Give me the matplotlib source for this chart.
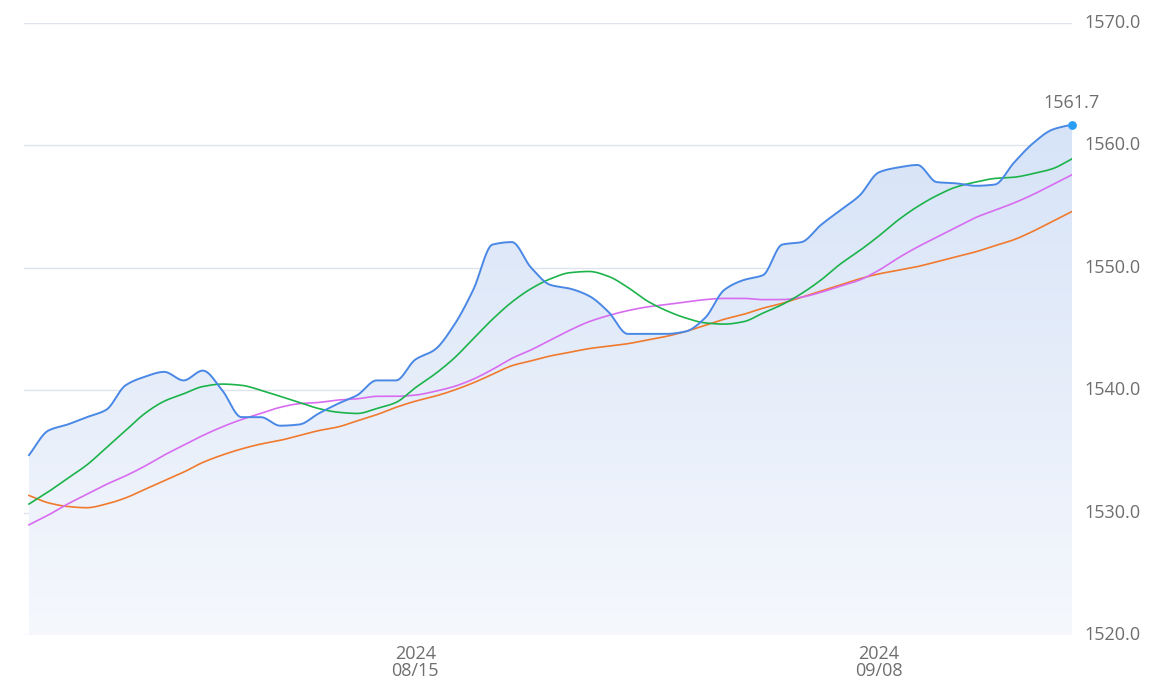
import numpy as np
import pandas as pd
import matplotlib
matplotlib.use("Agg")
import matplotlib.pyplot as plt
from matplotlib.patches import PathPatch
from matplotlib.path import Path

plt.rcParams['font.family'] = ['Open Sans', 'DejaVu Sans']

dates = pd.date_range("2024-07-26", "2024-09-18", freq="D")

price = [1534.7, 1536.7, 1537.2, 1537.8, 1538.4, 1540.4, 1541.1, 1541.5, 1540.8, 1541.6,
         1540.0, 1537.8, 1537.8, 1537.1, 1537.2, 1538.1, 1538.9, 1539.6, 1540.8, 1540.8,
         1542.5, 1543.3, 1545.3, 1548.2, 1551.9, 1552.1, 1550.0, 1548.6, 1548.3, 1547.7,
         1546.4, 1544.6, 1544.6, 1544.6, 1544.8, 1545.9, 1548.2, 1549.0, 1549.4, 1551.9,
         1552.1, 1553.5, 1554.7, 1555.9, 1557.8, 1558.2, 1558.4, 1557.0, 1556.9, 1556.7,
         1556.8, 1558.6, 1560.2, 1561.3, 1561.7]

ma_green = [1530.7, 1531.7, 1532.8, 1533.9, 1535.3, 1536.7, 1538.1, 1539.1, 1539.7, 1540.3,
            1540.5, 1540.4, 1540.0, 1539.5, 1539.0, 1538.5, 1538.2, 1538.1, 1538.5, 1539.0,
            1540.2, 1541.3, 1542.6, 1544.2, 1545.8, 1547.2, 1548.3, 1549.1, 1549.6, 1549.7,
            1549.3, 1548.4, 1547.3, 1546.5, 1545.9, 1545.5, 1545.4, 1545.6, 1546.3, 1547.0,
            1547.9, 1549.0, 1550.3, 1551.4, 1552.6, 1553.9, 1555.0, 1555.9, 1556.6, 1557.0,
            1557.3, 1557.4, 1557.7, 1558.1, 1558.9]

ma_magenta = [1529.0, 1529.8, 1530.7, 1531.5, 1532.3, 1533.0, 1533.8, 1534.7, 1535.5, 1536.3,
              1537.0, 1537.6, 1538.1, 1538.6, 1538.9, 1539.0, 1539.2, 1539.3, 1539.5, 1539.5,
              1539.6, 1539.9, 1540.3, 1540.9, 1541.7, 1542.6, 1543.3, 1544.1, 1544.9, 1545.6,
              1546.1, 1546.5, 1546.8, 1547.0, 1547.2, 1547.4, 1547.5, 1547.5, 1547.4, 1547.4,
              1547.6, 1548.0, 1548.5, 1549.0, 1549.8, 1550.8, 1551.7, 1552.5, 1553.3, 1554.1,
              1554.7, 1555.3, 1556.0, 1556.8, 1557.6]

ma_orange = [1531.4, 1530.8, 1530.5, 1530.4, 1530.7, 1531.2, 1531.9, 1532.6, 1533.3, 1534.1,
             1534.7, 1535.2, 1535.6, 1535.9, 1536.3, 1536.7, 1537.0, 1537.5, 1538.0, 1538.6,
             1539.1, 1539.5, 1540.0, 1540.6, 1541.3, 1542.0, 1542.4, 1542.8, 1543.1, 1543.4,
             1543.6, 1543.8, 1544.1, 1544.4, 1544.8, 1545.3, 1545.8, 1546.2, 1546.7, 1547.1,
             1547.6, 1548.1, 1548.6, 1549.1, 1549.5, 1549.8, 1550.1, 1550.5, 1550.9, 1551.3,
             1551.8, 1552.3, 1553.0, 1553.8, 1554.6]

y_ticks = [1520.0, 1530.0, 1540.0, 1550.0, 1560.0, 1570.0]
x_tick_dates = ["2024-08-15", "2024-09-08"]
x_tick_labels = ["2024\n08/15", "2024\n09/08"]


def smooth(x, y, n=20):
    """Monotone cubic Hermite (Fritsch-Carlson) for drawing smooth curves."""
    x = np.asarray(x, float); y = np.asarray(y, float)
    h = np.diff(x); d = np.diff(y) / h
    m = np.zeros_like(y)
    m[0] = d[0]; m[-1] = d[-1]
    for k in range(1, len(y) - 1):
        if d[k - 1] * d[k] <= 0:
            m[k] = 0
        else:
            w1 = 2 * h[k] + h[k - 1]; w2 = h[k] + 2 * h[k - 1]
            m[k] = (w1 + w2) / (w1 / d[k - 1] + w2 / d[k])
    xs, ys = [], []
    for k in range(len(x) - 1):
        t = np.linspace(0, 1, n, endpoint=False)
        h00 = 2*t**3 - 3*t**2 + 1; h10 = t**3 - 2*t**2 + t
        h01 = -2*t**3 + 3*t**2; h11 = t**3 - t**2
        xs.append(x[k] + t * h[k])
        ys.append(h00*y[k] + h10*h[k]*m[k] + h01*y[k+1] + h11*h[k]*m[k+1])
    xs.append([x[-1]]); ys.append([y[-1]])
    return np.concatenate(xs), np.concatenate(ys)


W, H = 1159, 682
fig = plt.figure(figsize=(W / 100, H / 100), dpi=100)
ax = fig.add_axes([24 / W, 1 - 635 / H, (1072 - 24) / W, (635 - 23) / H])

xi = np.arange(len(dates), dtype=float)
ymin, ymax = 1520, 1570
ax.set_ylim(ymin, ymax)
ax.set_xlim(-5 / 19.33, xi[-1])

for v in y_ticks:
    ax.axhline(v, color='#dfe3ec', lw=1.0, zorder=0)

# gradient area under price line
sx, sy = smooth(xi, price)
verts = np.vstack([np.column_stack([sx, sy]), [[sx[-1], ymin], [sx[0], ymin]]])
patch = PathPatch(Path(verts), facecolor='none', edgecolor='none')
ax.add_patch(patch)
grad = np.linspace(0, 1, 256).reshape(-1, 1)
top = np.array([0.84, 0.89, 0.97]); bot = np.array([0.962, 0.972, 0.99])
img = top[None, None, :] * (1 - grad[:, :, None]) + bot[None, None, :] * grad[:, :, None]
im = ax.imshow(img, extent=[sx[0], sx[-1], ymin, 1562.0], origin='upper', aspect='auto', zorder=1)
im.set_clip_path(patch)

for series, col in [(ma_orange, '#f07a2e'), (ma_magenta, '#d86cf0'), (ma_green, '#1cb34b')]:
    gx, gy = smooth(xi, series)
    ax.plot(gx, gy, color=col, lw=1.2, zorder=3)

ax.plot(sx, sy, color='#4a88e6', lw=1.4, zorder=4)
ax.scatter([xi[-1]], [price[-1]], s=28, color='#2a9df4', zorder=5, clip_on=False)
ax.annotate(f"{price[-1]:.1f}", (xi[-1], price[-1]), xytext=(0, 9), textcoords='offset points',
            ha='center', va='bottom', fontsize=13, color='#6e6e6e')

for s in ax.spines.values():
    s.set_visible(False)
ax.set_xticks([])
ax.set_yticks([])
for v in y_ticks:
    ax.annotate(f"{v:.1f}", (1, v), xycoords=('axes fraction', 'data'), xytext=(9, 0),
                textcoords='offset points', ha='left', va='center', fontsize=13,
                color='#6e6e6e', annotation_clip=False)

for d, lab in zip(x_tick_dates, x_tick_labels):
    pos = float(np.where(dates == pd.Timestamp(d))[0][0])
    ax.annotate(lab, (pos, 0), xycoords=('data', 'axes fraction'), xytext=(0, -7),
                textcoords='offset points', ha='center', va='top', fontsize=13,
                color='#6e6e6e', linespacing=0.95, annotation_clip=False)

fig.savefig("out.png", dpi=100, facecolor='white')
